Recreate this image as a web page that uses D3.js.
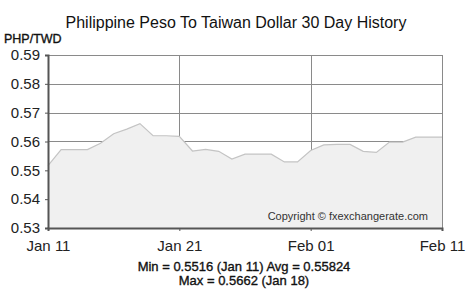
<!DOCTYPE html>
<html>
<head>
<meta charset="utf-8">
<script src="https://cdn.jsdelivr.net/npm/d3@7"></script>
<style>
  html, body { margin: 0; padding: 0; background: #fff; }
  svg { display: block; font-family: "Liberation Sans", Arial, sans-serif; }
</style>
</head>
<body>
<div id="chart"></div>
<script>
const W = 474, H = 292;

// PHP/TWD daily rate, Jan 11 -> Feb 11 (31 points)
const rates = [
  0.5516, 0.5572, 0.5572, 0.5572, 0.5594, 0.5627, 0.5643, 0.5662, 0.5620, 0.5620,
  0.5618, 0.5567, 0.5573, 0.5566, 0.5539, 0.5556, 0.5556, 0.5556, 0.5529, 0.5529,
  0.5569, 0.5588, 0.5590, 0.5590, 0.5566, 0.5562, 0.5598, 0.5598, 0.5615, 0.5615,
  0.5615,
];
const xTickIdx = [0, 10, 20, 30];
const xTickLabels = ["Jan 11", "Jan 21", "Feb 01", "Feb 11"];
const yTicks = [0.53, 0.54, 0.55, 0.56, 0.57, 0.58, 0.59];
const title = "Philippine Peso To Taiwan Dollar 30 Day History";
const statsLines = ["Min = 0.5516 (Jan 11) Avg = 0.55824", "Max = 0.5662 (Jan 18)"];

const plot = { left: 48, right: 442, top: 55, bottom: 228 };

const x = d3.scaleLinear().domain([0, rates.length - 1]).range([plot.left, plot.right]);
const y = d3.scaleLinear().domain([0.53, 0.59]).range([plot.bottom, plot.top]);

const svg = d3.select("#chart").append("svg").attr("width", W).attr("height", H);

svg.append("text")
  .attr("x", 236).attr("y", 28)
  .attr("text-anchor", "middle")
  .attr("font-size", 16).attr("fill", "#111")
  .text(title);

svg.append("text")
  .attr("x", 4).attr("y", 43)
  .attr("font-size", 12.5).attr("fill", "#111")
  .attr("stroke", "#111").attr("stroke-width", 0.35)
  .text("PHP/TWD");

// grid
const grid = svg.append("g");
grid.selectAll("line.h").data(yTicks.slice(1)).join("line")
  .attr("x1", plot.left).attr("x2", plot.right)
  .attr("y1", (d) => Math.round(y(d)) + 0.5).attr("y2", (d) => Math.round(y(d)) + 0.5)
  .attr("stroke", "#8a8a8a").attr("stroke-width", 1);
grid.selectAll("line.v").data(xTickIdx.slice(1)).join("line")
  .attr("x1", (d) => Math.round(x(d)) + 0.5).attr("x2", (d) => Math.round(x(d)) + 0.5)
  .attr("y1", plot.top).attr("y2", plot.bottom)
  .attr("stroke", "#8a8a8a").attr("stroke-width", 1);

// area + line
const area = d3.area().x((d, i) => x(i)).y0(plot.bottom).y1((d) => y(d));
const line = d3.line().x((d, i) => x(i)).y((d) => y(d));
svg.append("path").datum(rates).attr("d", area).attr("fill", "#f0f0f0");
svg.append("path").datum(rates).attr("d", line)
  .attr("fill", "none").attr("stroke", "#c4c4c4").attr("stroke-width", 1.2);

svg.append("text")
  .attr("x", 428).attr("y", 220)
  .attr("text-anchor", "end")
  .attr("font-size", 11).attr("fill", "#333")
  .text("Copyright © fxexchangerate.com");

// axes
const yAxis = svg.append("g").attr("transform", `translate(${plot.left},0)`)
  .call(d3.axisLeft(y).tickValues(yTicks).tickFormat(d3.format(".2f")).tickSize(3).tickPadding(5));
yAxis.select(".domain").attr("stroke", "#555").attr("stroke-width", 2);
yAxis.selectAll(".tick line").attr("stroke", "#555");
yAxis.selectAll(".tick text").attr("font-size", 15).attr("fill", "#222").attr("font-family", null);

const xAxis = svg.append("g").attr("transform", `translate(0,${plot.bottom})`)
  .call(d3.axisBottom(x).tickValues(xTickIdx).tickFormat((d, i) => xTickLabels[i]).tickSize(3).tickPadding(9));
xAxis.select(".domain").attr("stroke", "#555").attr("stroke-width", 2);
xAxis.selectAll(".tick line").attr("stroke", "#555");
xAxis.selectAll(".tick text").attr("font-size", 15).attr("fill", "#222").attr("font-family", null);

svg.selectAll("text.stats").data(statsLines).join("text")
  .attr("class", "stats")
  .attr("x", 244).attr("y", (d, i) => 270.5 + i * 14)
  .attr("text-anchor", "middle")
  .attr("font-size", 13).attr("fill", "#111")
  .attr("stroke", "#111").attr("stroke-width", 0.35)
  .text((d) => d);
</script>
</body>
</html>
